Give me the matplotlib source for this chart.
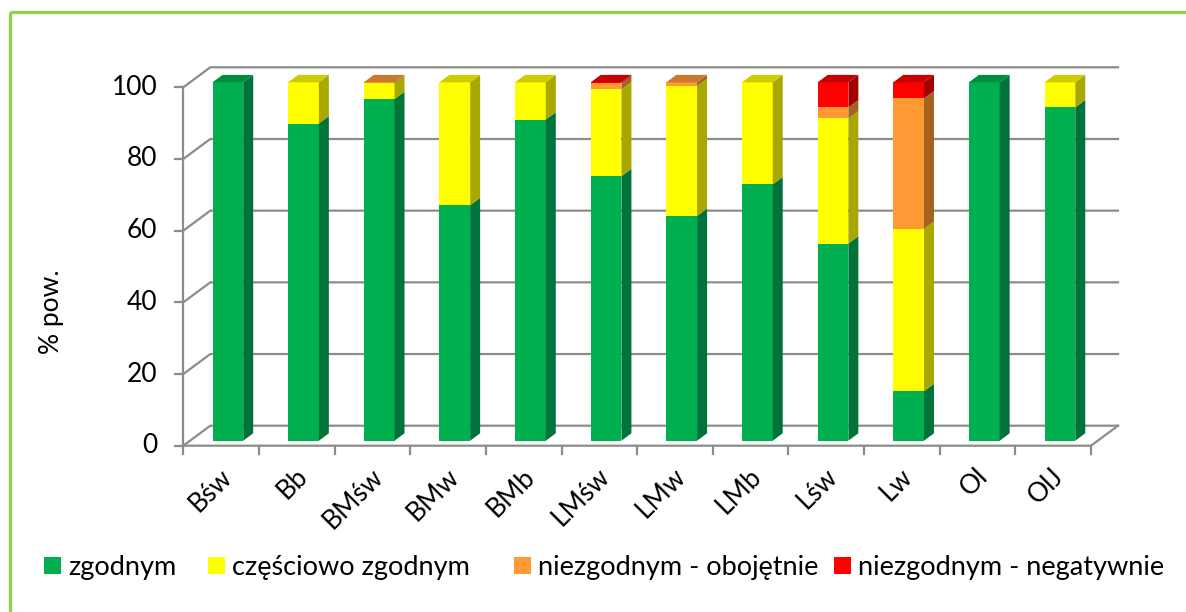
import matplotlib
matplotlib.use("Agg")
import matplotlib.pyplot as plt
from matplotlib.patches import Polygon, Rectangle

plt.rcParams['font.family'] = ['Lato', 'DejaVu Sans']

# ---- data -------------------------------------------------------------
categories = ['Bśw', 'Bb', 'BMśw', 'BMw', 'BMb', 'LMśw', 'LMw', 'LMb',
              'Lśw', 'Lw', 'Ol', 'OlJ']
zgodnym = [100, 88.5, 95.3, 65.7, 89.6, 73.8, 62.7, 71.5, 55.0, 13.8, 100, 93.0]
czesciowo = [0, 11.5, 4.4, 34.3, 10.4, 24.2, 36.2, 28.5, 34.9, 45.3, 0, 7.0]
obojetnie = [0, 0, 0.3, 0, 0, 1.7, 1.1, 0, 3.1, 36.4, 0, 0]
negatywnie = [0, 0, 0, 0, 0, 0.3, 0, 0, 7.0, 4.5, 0, 0]
series_names = ['zgodnym', 'częściowo zgodnym', 'niezgodnym - obojętnie',
                'niezgodnym - negatywnie']
y_ticks = [0, 20, 40, 60, 80, 100]
y_label = '% pow.'

# ---- style -------------------------------------------------------------
# (front, side, top) shades for each series
shades = [('#00B050', '#00733A', '#008C40'),
          ('#FFFF00', '#A8A800', '#CCCC00'),
          ('#FF9933', '#A6621F', '#C97A2A'),
          ('#FF0000', '#A50000', '#C80000')]
grid_col = '#8C8C8C'
frame_col = '#92D050'

W, H = 1186, 612
fig = plt.figure(figsize=(W / 100, H / 100), dpi=100)
fig.patch.set_facecolor('white')

# plot floor front edge: x pixels 183.3..1091, y 0 -> 445.7, 100 -> 87.3
left_px, right_px = 183.3, 1091.0
y0_px, y100_px = 445.7, 87.3
ax = fig.add_axes([left_px / W, (H - y0_px) / H,
                   (right_px - left_px) / W, (y0_px - y100_px) / H])
n = len(categories)
ax.set_xlim(-0.5, n - 0.5)
ax.set_ylim(0, 100)
ax.axis('off')

px_x = (right_px - left_px) / n      # pixels per category
px_y = (y0_px - y100_px) / 100.0     # pixels per percent
DX, DY = 27 / px_x, 20 / px_y        # full depth of the 3-D box
bar_front, bar_depth = 0.25, 0.37    # bar position / depth as box fractions
bar_w = 30.7 / px_x

# back wall gridlines with the left wall diagonals
for v in y_ticks:
    ax.plot([-0.5, -0.5 + DX, n - 0.5 + DX], [v, v + DY, v + DY],
            color=grid_col, lw=1.6, clip_on=False, zorder=1,
            solid_joinstyle='miter')
# floor front edge and right edge
ax.plot([-0.5, n - 0.5, n - 0.5 + DX], [0, 0, DY], color=grid_col,
        lw=1.6, clip_on=False, zorder=1, solid_joinstyle='miter')
# front value axis with ticks
ax.plot([-0.5, -0.5], [0, 100], color=grid_col, lw=1.6, clip_on=False,
        zorder=5)
for v in y_ticks:
    ax.plot([-0.5 - 8 / px_x, -0.5], [v, v], color=grid_col, lw=1.6,
            clip_on=False, zorder=5)
    ax.text(-0.5 - 26 / px_x, v, str(v), ha='right', va='center',
            fontsize=19, color='black')
for b in range(n + 1):
    ax.plot([b - 0.5, b - 0.5], [0, -8 / px_y], color=grid_col, lw=1.6,
            clip_on=False, zorder=5)

# stacked 3-D columns
stack = [zgodnym, czesciowo, obojetnie, negatywnie]
ox, oy = bar_front * DX, bar_front * DY
sx, sy = bar_depth * DX, bar_depth * DY
for i in range(n):
    base = 0.0
    top_color = None
    for k, vals in enumerate(stack):
        h = vals[i]
        if h <= 0:
            continue
        front, side, top = shades[k]
        xc = i + ox
        ax.bar(xc, h, bottom=base + oy, width=bar_w, color=front,
               edgecolor='none', zorder=3, clip_on=False)
        x1 = xc + bar_w / 2
        ax.add_patch(Polygon([(x1, base + oy), (x1 + sx, base + oy + sy),
                              (x1 + sx, base + h + oy + sy),
                              (x1, base + h + oy)],
                             closed=True, facecolor=side, edgecolor='none',
                             zorder=3, clip_on=False))
        base += h
        top_color = top
    xa, xb = i + ox - bar_w / 2, i + ox + bar_w / 2
    yt = base + oy
    ax.add_patch(Polygon([(xa, yt), (xb, yt), (xb + sx, yt + sy),
                          (xa + sx, yt + sy)], closed=True,
                         facecolor=top_color, edgecolor='none', zorder=3,
                         clip_on=False))

# category labels
for i, name in enumerate(categories):
    ax.annotate(name, xy=(i, 0), xytext=(-2, -18), textcoords='offset pixels',
                ha='right', va='top', rotation=45, rotation_mode='anchor',
                fontsize=19, color='black', annotation_clip=False)

fig.text(52 / W, 1 - 312 / H, y_label, rotation=90, ha='center',
         va='center', fontsize=19)

# legend row
legend_sq_x = [44, 208, 514, 834]
legend_tx_x = [68, 232, 538, 858]
ly = 565
for k, name in enumerate(series_names):
    fig.add_artist(Rectangle((legend_sq_x[k] / W, 1 - (ly + 8.5) / H),
                             17 / W, 17 / H, transform=fig.transFigure,
                             facecolor=shades[k][0], edgecolor='none'))
    fig.text(legend_tx_x[k] / W, 1 - ly / H, name, ha='left',
             va='center_baseline', fontsize=19.5)

# outer frame
fig.add_artist(Rectangle((9.5 / W, 1 - 12 / H), 1300 / W, -700 / H,
                         transform=fig.transFigure, facecolor='none',
                         edgecolor=frame_col, lw=2.4))

fig.savefig('out.png', dpi=100)
